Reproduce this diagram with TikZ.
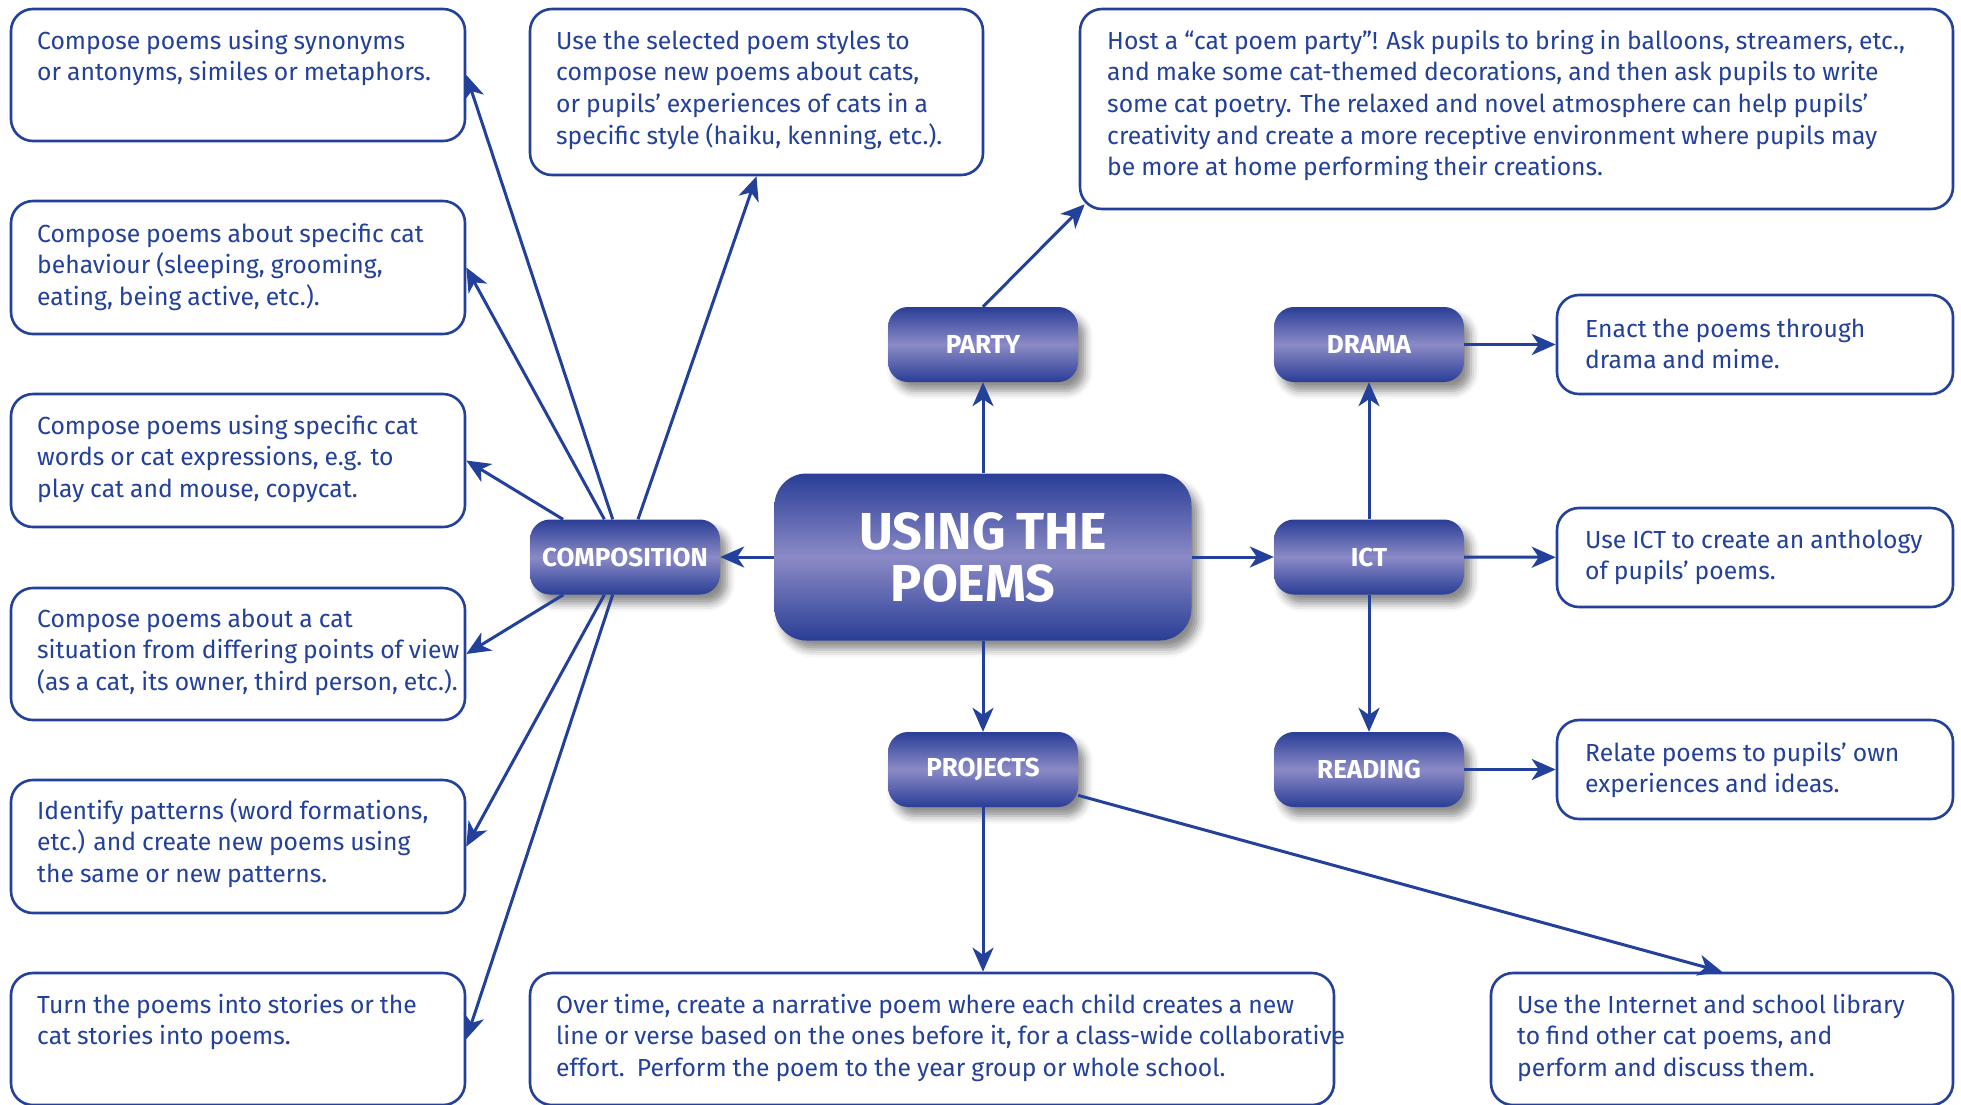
\documentclass[tikz,border=0pt]{standalone}
\usepackage{fontspec}
\setmainfont{Fira Sans}[WordSpace=0.92]
\usetikzlibrary{arrows.meta,shadows.blur}

\definecolor{ink}{RGB}{35,64,154}
\definecolor{btndark}{RGB}{42,62,150}
\definecolor{btnlight}{RGB}{139,138,198}

% button fill: dark at the top and bottom edges, light band in the middle
\pgfdeclareverticalshading{btnshade}{100bp}{color(0bp)=(btndark); color(25bp)=(btndark); color(50bp)=(btnlight); color(75bp)=(btndark); color(100bp)=(btndark)}

% left-aligned lines whose reference point is the first baseline
\newcommand\boxlines[1]{\vtop{\baselineskip=31.7pt\lineskiplimit=-50pt\halign{##\hfil\cr#1\crcr}}}

\begin{document}
\begin{tikzpicture}[x=1pt,y=-1pt,
  tbox/.style={draw=ink, line width=2.6pt, rounded corners=22pt, fill=white, inner sep=0pt},
  txt/.style={anchor=base west, inner sep=0pt, text=ink, font=\fontsize{24.7}{31.7}\selectfont},
  btn/.style={rounded corners=20pt, shading=btnshade, minimum width=190pt, minimum height=75pt,
    inner sep=0pt, text=white, font=\fontsize{26}{26}\selectfont\bfseries,
    blur shadow={shadow xshift=7pt, shadow yshift=-9pt, shadow blur radius=8pt, shadow opacity=45}},
  hub/.style={btn, rounded corners=32pt, minimum width=417pt, minimum height=167pt,
    align=center, font=\fontsize{52}{52}\selectfont\bfseries},
  conn/.style={draw=ink, line width=3pt, -{Stealth[length=24pt,width=21pt,inset=7pt]}}
]
\useasboundingbox (0,0) rectangle (1961,1104);
\clip (0,0) rectangle (1961,1104);

% text boxes, left column
\node[tbox, minimum width=454pt, minimum height=132pt] (b1) at (238,75) {};
\node[tbox, minimum width=454pt, minimum height=133pt] (b2) at (238,267.5) {};
\node[tbox, minimum width=454pt, minimum height=133pt] (b3) at (238,460.5) {};
\node[tbox, minimum width=454pt, minimum height=132pt] (b4) at (238,654) {};
\node[tbox, minimum width=454pt, minimum height=133pt] (b5) at (238,846.5) {};
\node[tbox, minimum width=454pt, minimum height=132pt] (b6) at (238,1039) {};

% text boxes, top and right
\node[tbox, minimum width=453pt, minimum height=166pt] (topmid) at (756.5,92) {};
\node[tbox, minimum width=873pt, minimum height=200pt] (host) at (1516.5,109) {};
\node[tbox, minimum width=396pt, minimum height=99pt] (enact) at (1755,344.5) {};
\node[tbox, minimum width=396pt, minimum height=99pt] (useict) at (1755,557.5) {};
\node[tbox, minimum width=396pt, minimum height=99pt] (relate) at (1755,769.5) {};

% text boxes, bottom row
\node[tbox, minimum width=804pt, minimum height=132pt] (over) at (932,1039) {};
\node[tbox, minimum width=462pt, minimum height=132pt] (inet) at (1722,1039) {};

% box texts
\node[txt] (t1) at (37,49) {\boxlines{Compose poems using synonyms\cr or antonyms, similes or metaphors.}};
\node[txt] (t2) at (37,242) {\boxlines{Compose poems about specific cat\cr behaviour (sleeping, grooming,\cr eating, being active, etc.).}};
\node[txt] (t3) at (37,434) {\boxlines{Compose poems using specific cat\cr words or cat expressions, e.g. to\cr play cat and mouse, copycat.}};
\node[txt] (t4) at (37,627) {\boxlines{Compose poems about a cat\cr situation from differing points of view\cr (as a cat, its owner, third person, etc.).}};
\node[txt] (t5) at (37,819) {\boxlines{Identify patterns (word formations,\cr etc.) and create new poems using\cr the same or new patterns.}};
\node[txt] (t6) at (37,1013) {\boxlines{Turn the poems into stories or the\cr cat stories into poems.}};
\node[txt] (t7) at (556,49) {\boxlines{Use the selected poem styles to\cr compose new poems about cats,\cr or pupils’ experiences of cats in a\cr specific style (haiku, kenning, etc.).}};
\node[txt] (t8) at (1107,49) {\boxlines{Host a “cat poem party”! Ask pupils to bring in balloons, streamers, etc.,\cr and make some cat-themed decorations, and then ask pupils to write\cr some cat poetry. The relaxed and novel atmosphere can help pupils’\cr creativity and create a more receptive environment where pupils may\cr be more at home performing their creations.}};
\node[txt] (t9) at (1585,337) {\boxlines{Enact the poems through\cr drama and mime.}};
\node[txt] (t10) at (1585,548) {\boxlines{Use ICT to create an anthology\cr of pupils’ poems.}};
\node[txt] (t11) at (1585,761) {\boxlines{Relate poems to pupils’ own\cr experiences and ideas.}};
\node[txt] (t12) at (556,1013) {\boxlines{Over time, create a narrative poem where each child creates a new\cr line or verse based on the ones before it, for a class-wide collaborative\cr effort.\ \ Perform the poem to the year group or whole school.}};
\node[txt] (t13) at (1517,1013) {\boxlines{Use the Internet and school library\cr to find other cat poems, and\cr perform and discuss them.}};

% shaded buttons
\node[hub] (main) at (983,557) {USING THE\\POEMS\kern20pt};
\node[btn] (comp) at (625,557) {COMPOSITION};
\node[btn] (party) at (983,344.5) {PARTY};
\node[btn] (proj) at (983,769.5) {PROJECTS};
\node[btn] (drama) at (1369,344.5) {DRAMA};
\node[btn] (ict) at (1369,557) {ICT};
\node[btn] (reading) at (1369,769.5) {READING};

% connectors
\draw[conn] (main) -- (comp);
\draw[conn] (main) -- (party);
\draw[conn] (main) -- (proj);
\draw[conn] (main) -- (ict);
\draw[conn] (comp) -- (b1.east);
\draw[conn] (comp) -- (b2.east);
\draw[conn] (comp) -- (b3.east);
\draw[conn] (comp) -- (b4.east);
\draw[conn] (comp) -- (b5.east);
\draw[conn] (comp) -- (b6.east);
\draw[conn] (comp) -- (topmid.south);
\draw[conn] (party.north) -- ([shift={(6pt,6pt)}]host.south west);
\draw[conn] (proj) -- (proj |- over.north);
\draw[conn] (proj) -- (inet.north);
\draw[conn] (ict) -- (drama);
\draw[conn] (ict) -- (reading);
\draw[conn] (drama) -- (enact);
\draw[conn] (ict) -- (useict);
\draw[conn] (reading) -- (relate);
\end{tikzpicture}
\end{document}
